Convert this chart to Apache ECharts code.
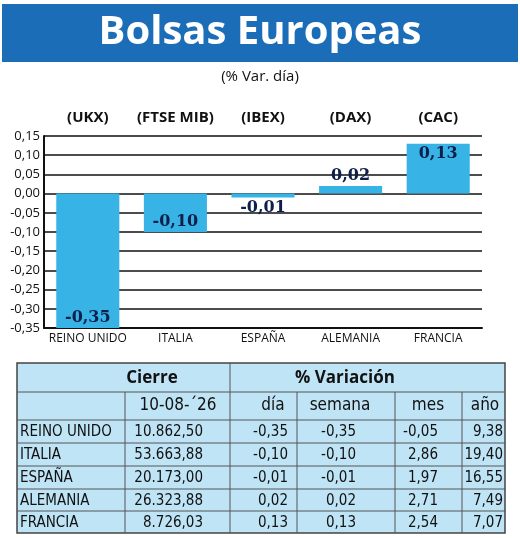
<!DOCTYPE html><html><head><meta charset="utf-8">
<script src="https://cdn.jsdelivr.net/npm/echarts@6/dist/echarts.min.js"></script>
<style>html,body{margin:0;padding:0;background:#fff}#c{width:520px;height:538px}</style></head><body><div id="c"></div>
<script>
const countries=['REINO UNIDO','ITALIA','ESPAÑA','ALEMANIA','FRANCIA'];
const codes=['(UKX)','(FTSE MIB)','(IBEX)','(DAX)','(CAC)'];
const dayVar=[-0.35,-0.10,-0.01,0.02,0.13];
const cierre=['10.862,50','53.663,88','20.173,00','26.323,88','8.726,03'];
const semana=['-0,35','-0,10','-0,01','0,02','0,13'];
const mes=['-0,05','2,86','1,97','2,71','2,54'];
const anio=['9,38','19,40','16,55','7,49','7,07'];
const fmt=v=>v.toFixed(2).replace('.',',');
const labelPos=['insideBottom','insideBottom','bottom','top','insideTop'];
const chart=echarts.init(document.getElementById('c'));
const F="'DejaVu Sans Condensed','Liberation Sans',sans-serif";
const g=[];
g.push({type:'rect',shape:{x:2,y:4,width:516,height:58},style:{fill:'#1a6db6'}});
g.push({type:'text',x:260,y:33,style:{text:'Bolsas Europeas',fill:'#fff',font:"bold 40px 'Open Sans',sans-serif",textAlign:'center',textVerticalAlign:'middle'}});
g.push({type:'text',x:260,y:77,style:{text:'(% Var. día)',fill:'#111',font:"15px 'Open Sans',sans-serif",textAlign:'center',textVerticalAlign:'middle'}});
const L=17,R=505,T=363,B=533;
const rowY=[T,392,420,443,466,489,511,B];
g.push({type:'rect',shape:{x:L,y:T,width:R-L,height:B-T},style:{fill:'#bfe4f6',stroke:'#444',lineWidth:1.5}});
[392,420,443,466,489,511].forEach(y=>g.push({type:'line',shape:{x1:L,y1:y,x2:R,y2:y},style:{stroke:'#555',lineWidth:1}}));
g.push({type:'line',shape:{x1:230,y1:T,x2:230,y2:B},style:{stroke:'#555',lineWidth:1}});
[125,297,395,462].forEach(x=>g.push({type:'line',shape:{x1:x,y1:392,x2:x,y2:B},style:{stroke:'#555',lineWidth:1}}));
const txt=(s,x,y,al,font)=>g.push({type:'text',x,y,style:{text:s,fill:'#111',font:font||("15px "+F),textAlign:al,textVerticalAlign:'middle'}});
txt('Cierre',152,378,'center',"bold 17px 'Open Sans',sans-serif");
txt('% Variación',345,378,'center',"bold 17px 'Open Sans',sans-serif");
txt("10-08-´26",178,406,'center',"17px "+F);
txt('día',273,406,'center',"17px "+F);
txt('semana',340,406,'center',"17px "+F);
txt('mes',428,406,'center',"17px "+F);
txt('año',485,406,'center',"17px "+F);
countries.forEach((c,i)=>{const y=(rowY[i+2]+rowY[i+3])/2+1;
 txt(c,20,y,'left');txt(cierre[i],203,y,'right');txt(fmt(dayVar[i]),288,y,'right');
 txt(semana[i],356,y,'right');txt(mes[i],438,y,'right');txt(anio[i],503,y,'right');});
codes.forEach((c,i)=>txt(c,44+438*(i+0.5)/5,118,'center',"bold 15px 'Open Sans',sans-serif"));
chart.setOption({animation:false,
 grid:{left:44,right:38,top:136,bottom:210},
 xAxis:{type:'category',data:countries,axisLine:{show:true,onZero:false,lineStyle:{color:'#111',width:2}},axisTick:{show:false},
  axisLabel:{interval:0,color:'#111',fontSize:12,fontFamily:"'Open Sans',sans-serif",margin:5}},
 yAxis:{type:'value',min:-0.35,max:0.15,interval:0.05,axisLine:{show:true,lineStyle:{color:'#111',width:2}},
  axisLabel:{color:'#111',fontSize:13,fontFamily:"'Open Sans',sans-serif",formatter:v=>fmt(v),margin:4},
  splitLine:{lineStyle:{color:'#111',width:1.5}}},
 series:[{type:'bar',barWidth:'72%',data:dayVar.map((v,i)=>({value:v,label:{position:labelPos[i]}})),
  itemStyle:{color:'#38b3e6'},
  label:{show:true,formatter:p=>fmt(p.value),color:'#0d1f4a',fontSize:16,fontWeight:'bold',fontFamily:"'DejaVu Serif',serif",distance:2}}],
 graphic:g});
</script></body></html>
